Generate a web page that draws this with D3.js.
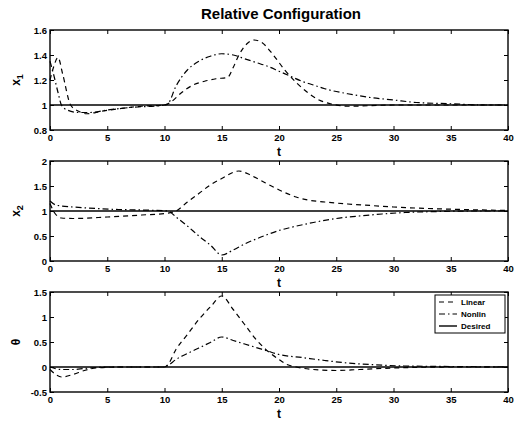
<!DOCTYPE html>
<html>
<head>
<meta charset="utf-8">
<script src="https://cdn.jsdelivr.net/npm/d3@7"></script>
<style>
    body { margin: 0; background: #fff; }
    svg { font-family: "Liberation Sans", Arial, sans-serif; }
    .axis text { font-size: 9.5px; font-weight: bold; fill: #000; }
    .axis line { stroke: #000; }
    .axis path { display: none; }
</style>
</head>
<body>
<div id="chart"></div>
<script>
// data
let t_ticks = [0, 5, 10, 15, 20, 25, 30, 35, 40];

let x1_linear_t = [0, 0.3, 0.7, 1.1, 1.8, 2.5, 3.2, 4.5, 6, 8, 10, 10.5, 11.5, 12.5, 13.5, 14.5, 15.5, 16, 16.5, 17.2, 17.8, 18.5, 19.5, 20.5, 21.5, 22.5, 23.5, 24.5, 26, 30, 35, 40];
let x1_linear = [1.2, 1.3, 1.38, 1.25, 1.0, 0.95, 0.93, 0.95, 0.97, 0.99, 1.0, 1.02, 1.1, 1.16, 1.19, 1.21, 1.22, 1.3, 1.4, 1.49, 1.52, 1.5, 1.4, 1.28, 1.18, 1.1, 1.04, 1.01, 0.99, 1.0, 1.0, 1.0];
let x1_nonlin_t = [0, 0.3, 0.7, 1.0, 1.5, 2.5, 3.5, 5, 7, 10, 10.3, 11, 12, 13, 14, 15, 16, 17, 18, 19, 20, 21, 22, 23, 24, 26, 28, 30, 32, 35, 38, 40];
let x1_nonlin = [1.35, 1.25, 1.1, 1.0, 0.96, 0.94, 0.94, 0.96, 0.98, 1.0, 1.01, 1.15, 1.28, 1.35, 1.39, 1.41, 1.4, 1.37, 1.34, 1.31, 1.27, 1.23, 1.19, 1.16, 1.13, 1.09, 1.06, 1.04, 1.02, 1.01, 1.0, 1.0];

let x2_linear_t = [0, 0.3, 1, 2, 5, 8, 10, 11, 12, 13, 14, 15, 16.5, 17.5, 18.5, 19.5, 20.5, 21.5, 22.5, 24, 26, 28, 30, 33, 36, 40];
let x2_linear = [1.15, 1.0, 0.86, 0.85, 0.88, 0.92, 0.95, 1.0, 1.18, 1.35, 1.52, 1.65, 1.8, 1.72, 1.6, 1.48, 1.37, 1.28, 1.22, 1.18, 1.14, 1.11, 1.08, 1.05, 1.03, 1.01];
let x2_nonlin_t = [0, 0.5, 1, 2, 4, 6, 8, 10.3, 11, 12, 13, 14, 15, 16, 17, 18, 19, 20, 21, 23, 25, 27, 29, 31, 34, 37, 40];
let x2_nonlin = [1.2, 1.12, 1.1, 1.08, 1.05, 1.03, 1.02, 1.0, 0.88, 0.7, 0.5, 0.32, 0.12, 0.22, 0.34, 0.44, 0.53, 0.61, 0.67, 0.77, 0.85, 0.9, 0.94, 0.97, 0.99, 1.0, 1.0];

let th_linear_t = [0, 0.5, 1, 2, 3, 4, 6, 10, 10.3, 11, 12, 13, 14, 15, 16, 17, 18, 19, 20, 20.7, 21.5, 23, 25, 27, 30, 35, 40];
let th_linear = [-0.05, -0.15, -0.2, -0.15, -0.07, -0.02, 0.0, 0.0, 0.05, 0.35, 0.65, 0.95, 1.2, 1.42, 1.15, 0.85, 0.55, 0.32, 0.15, 0.05, 0.0, -0.05, -0.07, -0.05, -0.02, 0.0, 0.0];
let th_nonlin_t = [0, 1, 2, 3, 5, 10, 10.3, 11, 12, 13, 14, 15, 16, 17, 18, 19, 20, 22, 24, 26, 28, 31, 35, 40];
let th_nonlin = [0.0, -0.05, -0.05, -0.03, 0.0, 0.0, 0.03, 0.15, 0.27, 0.38, 0.49, 0.6, 0.53, 0.46, 0.39, 0.32, 0.25, 0.19, 0.13, 0.08, 0.05, 0.02, 0.01, 0.0];

let desired = [1, 1, 0];

let panels = [
    { label: "x", sub: "1", ydom: [0.8, 1.6], yticks: [0.8, 1, 1.2, 1.4, 1.6],
      lin_t: x1_linear_t, lin: x1_linear, non_t: x1_nonlin_t, non: x1_nonlin, des: desired[0] },
    { label: "x", sub: "2", ydom: [0, 2], yticks: [0, 0.5, 1, 1.5, 2],
      lin_t: x2_linear_t, lin: x2_linear, non_t: x2_nonlin_t, non: x2_nonlin, des: desired[1] },
    { label: "\u03b8", sub: "", ydom: [-0.5, 1.5], yticks: [-0.5, 0, 0.5, 1, 1.5],
      lin_t: th_linear_t, lin: th_linear, non_t: th_nonlin_t, non: th_nonlin, des: desired[2] }
];

let legend_names = ["Linear", "Nonlin", "Desired"];

// draw
{
    let width = 514,
        height = 423,
        left = 50,
        right = 508,
        tops = [30, 161, 292],
        ph = 100;

    let dash = { Linear: "5,4", Nonlin: "6,3,1.5,3", Desired: null };

    let svg = d3.select("#chart").append("svg")
        .attr("width", width)
        .attr("height", height);

    svg.append("text")
        .attr("x", 281)
        .attr("y", 19)
        .attr("text-anchor", "middle")
        .attr("font-size", 15)
        .attr("font-weight", "bold")
        .text("Relative Configuration");

    let fmt = function(d) { return String(+d.toFixed(2)); };

    panels.forEach(function(p, k) {
        let top = tops[k],
            bottom = top + ph;
        let x = d3.scaleLinear().domain([0, 40]).range([left, right]);
        let y = d3.scaleLinear().domain(p.ydom).range([bottom, top]);

        let g = svg.append("g");

        // axes (ticks inside like matlab)
        g.append("g").attr("class", "axis")
            .attr("transform", "translate(0," + bottom + ")")
            .call(d3.axisBottom(x).tickValues(t_ticks).tickSizeInner(-4).tickSizeOuter(0).tickPadding(4).tickFormat(fmt));
        g.append("g").attr("class", "axis")
            .attr("transform", "translate(0," + top + ")")
            .call(d3.axisTop(x).tickValues(t_ticks).tickSizeInner(-4).tickSizeOuter(0).tickFormat(""));
        g.append("g").attr("class", "axis")
            .attr("transform", "translate(" + left + ",0)")
            .call(d3.axisLeft(y).tickValues(p.yticks).tickSizeInner(-4).tickSizeOuter(0).tickPadding(3).tickFormat(fmt));
        g.append("g").attr("class", "axis")
            .attr("transform", "translate(" + right + ",0)")
            .call(d3.axisRight(y).tickValues(p.yticks).tickSizeInner(-4).tickSizeOuter(0).tickFormat(""));

        // desired
        g.append("line")
            .attr("x1", x(0)).attr("x2", x(40))
            .attr("y1", y(p.des)).attr("y2", y(p.des))
            .attr("stroke", "#000")
            .attr("stroke-width", 1.6);

        let line = d3.line()
            .x(function(d) { return x(d[0]); })
            .y(function(d) { return y(d[1]); })
            .curve(d3.curveMonotoneX);

        g.append("path")
            .datum(d3.zip(p.lin_t, p.lin))
            .attr("d", line)
            .attr("fill", "none")
            .attr("stroke", "#000")
            .attr("stroke-width", 1.2)
            .attr("stroke-dasharray", dash.Linear);
        g.append("path")
            .datum(d3.zip(p.non_t, p.non))
            .attr("d", line)
            .attr("fill", "none")
            .attr("stroke", "#000")
            .attr("stroke-width", 1.2)
            .attr("stroke-dasharray", dash.Nonlin);

        // box
        g.append("rect")
            .attr("x", left).attr("y", top)
            .attr("width", right - left).attr("height", ph)
            .attr("fill", "none")
            .attr("stroke", "#000")
            .attr("stroke-width", 1.4);

        // labels
        svg.append("text")
            .attr("x", (left + right) / 2)
            .attr("y", bottom + 26)
            .attr("text-anchor", "middle")
            .attr("font-size", 12)
            .attr("font-weight", "bold")
            .text("t");
        let yl = svg.append("text")
            .attr("transform", "translate(20," + (top + ph / 2) + ") rotate(-90)")
            .attr("text-anchor", "middle")
            .attr("font-size", 12)
            .attr("font-weight", "bold")
            .text(p.label);
        if (p.sub)
            yl.append("tspan").attr("dy", 3).attr("font-size", 9).text(p.sub);

        // legend in last panel
        if (k == 2) {
            let lx = 435, ly = 295, lw = 70, lh = 38;
            let lg = svg.append("g");
            lg.append("rect")
                .attr("x", lx).attr("y", ly)
                .attr("width", lw).attr("height", lh)
                .attr("fill", "#fff")
                .attr("stroke", "#000")
                .attr("stroke-width", 1);
            legend_names.forEach(function(name, i) {
                let yy = ly + 7 + i * 12;
                lg.append("line")
                    .attr("x1", lx + 4).attr("x2", lx + 22)
                    .attr("y1", yy).attr("y2", yy)
                    .attr("stroke", "#000")
                    .attr("stroke-width", name == "Desired" ? 1.4 : 1.1)
                    .attr("stroke-dasharray", dash[name]);
                lg.append("text")
                    .attr("x", lx + 26).attr("y", yy + 3)
                    .attr("font-size", 8)
                    .attr("font-weight", "bold")
                    .text(name);
            });
        }
    });
}
</script>
</body>
</html>
